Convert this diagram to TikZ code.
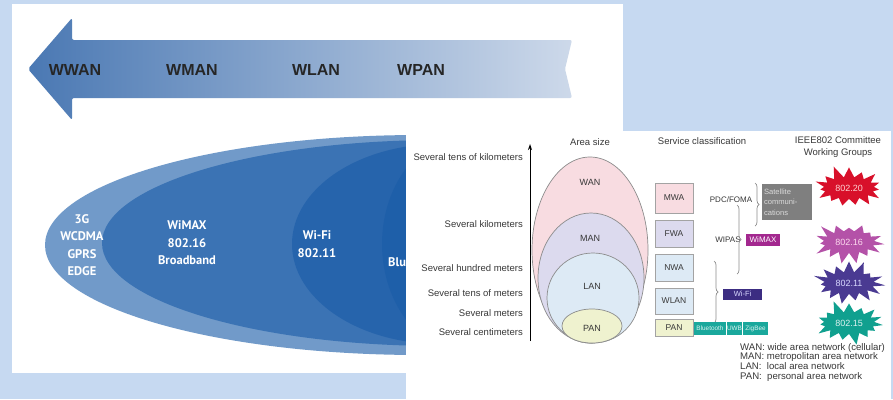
\documentclass[tikz,border=0pt]{standalone}
\usepackage{fontspec}
\setmainfont{Liberation Sans}
\newfontfamily\ellfont{PT Sans}
\usetikzlibrary{shapes.symbols,arrows.meta,decorations.pathreplacing}
\definecolor{bgblue}{HTML}{C6D9F1}
\definecolor{arrowdark}{HTML}{4A78B3}
\definecolor{arrowlight}{HTML}{CDD9EA}
\definecolor{ellblue}{HTML}{1A5CA8}
\definecolor{txtgray}{HTML}{383838}
\definecolor{linegray}{HTML}{8C8C8C}
\definecolor{wanpink}{HTML}{F8DCE1}
\definecolor{manlav}{HTML}{DCDAEE}
\definecolor{lanblue}{HTML}{DDEAF5}
\definecolor{panyel}{HTML}{EFF2CF}
\definecolor{satgray}{HTML}{7F7F7F}
\definecolor{wimaxmag}{HTML}{A3288F}
\definecolor{wifipur}{HTML}{3C2D82}
\definecolor{teal}{HTML}{1AA89C}
\definecolor{burstred}{HTML}{D8102A}
\definecolor{burstpink}{HTML}{B452A8}
\definecolor{burstpur}{HTML}{4A3A92}
\definecolor{burstteal}{HTML}{10A08F}
\tikzset{
  toplbl/.style={font=\fontsize{16}{18}\selectfont\bfseries, text=black!85, inner sep=0pt},
  elltxt/.style={font=\ellfont\bfseries\fontsize{12.5}{17.5}\selectfont, text=white, align=center, inner sep=0pt},
  rtxt/.style={font=\fontsize{9.5}{11}\selectfont, text=txtgray, inner sep=0pt},
  axlbl/.style={rtxt, anchor=east},
  ringlbl/.style={font=\fontsize{9}{10}\selectfont, text=txtgray, inner sep=0pt},
  clsbox/.style={draw=linegray!80, line width=0.7pt, minimum width=38pt, font=\fontsize{8.5}{10}\selectfont, text=txtgray, inner sep=0pt},
  coloredbox/.style={inner sep=0pt, font=\fontsize{7.5}{9}\selectfont},
  tealbox/.style={coloredbox, fill=teal, text=white!85!teal, minimum height=13pt, font=\fontsize{6.4}{8}\selectfont},
  burst/.style={starburst, draw=none, starburst points=15, starburst point height=13pt, inner xsep=4pt, inner ysep=4.5pt, font=\fontsize{9}{10}\selectfont},
  brc/.style={decorate, decoration={brace, amplitude=4pt}, draw=linegray, line width=0.7pt},
  ringline/.style={draw=linegray, line width=0.7pt}
}
\begin{document}
\begin{tikzpicture}[x=1pt,y=-1pt]
\useasboundingbox (0,0) rectangle (893,399);
\fill[bgblue] (0,0) rectangle (893,399);
% left panel
\fill[white] (12,4) rectangle (623,373);
\shade[left color=arrowdark, right color=arrowlight, rounded corners=2pt]
  (28,69) -- (72,18) -- (72,40) -- (572,40) -- (565,69) -- (572,98) -- (72,98) -- (72,120) -- cycle;
\node[toplbl] (wwan) at (75,70) {WWAN};
\node[toplbl] (wman) at (192,70) {WMAN};
\node[toplbl] (wlan) at (316,70) {WLAN};
\node[toplbl] (wpan) at (421,70) {WPAN};
% overlapping ellipses
\fill[ellblue, fill opacity=0.62] (420,245) circle [x radius=375, y radius=110];
\fill[ellblue, fill opacity=0.62] (440,243) circle [x radius=338, y radius=103];
\fill[ellblue, fill opacity=0.62] (440,244) circle [x radius=148, y radius=100];
\fill[ellblue, fill opacity=0.62] (470,244) circle [x radius=88, y radius=110];
\node[elltxt] (g3) at (82,245) {3G\\WCDMA\\GPRS\\EDGE};
\node[elltxt] (wimaxl) at (187,243) {WiMAX\\802.16\\Broadband};
\node[elltxt] (wifil) at (317,244) {Wi-Fi\\802.11};
\node[elltxt, anchor=west] (blu) at (388,262) {Blu};
% right panel
\fill[white] (406,131) rectangle (891,399);
\node[rtxt] (area) at (590,142) {Area size};
\node[rtxt] (serv) at (702,141) {Service classification};
\node[rtxt, align=center, font=\fontsize{9.5}{12}\selectfont] (ieee) at (838,147) {IEEE802 Committee\\Working Groups};
\coordinate (axb) at (530,341);
\coordinate (axt) at (530,144);
\draw[line width=1pt, -{Stealth[length=6pt,width=4pt]}] (axb) -- (axt);
\node[axlbl] (l1) at (523,157) {Several tens of kilometers};
\node[axlbl] (l2) at (523,224) {Several kilometers};
\node[axlbl] (l3) at (523,268) {Several hundred meters};
\node[axlbl] (l4) at (523,293) {Several tens of meters};
\node[axlbl] (l5) at (523,313) {Several meters};
\node[axlbl] (l6) at (523,332) {Several centimeters};
% nested rings
\filldraw[ringline, fill=wanpink] (590,250) circle [x radius=58, y radius=93];
\filldraw[ringline, fill=manlav] (591,278) circle [x radius=53, y radius=65];
\filldraw[ringline, fill=lanblue] (593,298) circle [x radius=46, y radius=45];
\filldraw[ringline, fill=panyel] (592,326) circle [x radius=30, y radius=17];
\node[ringlbl] (wan) at (590,182) {WAN};
\node[ringlbl] (man) at (590,238) {MAN};
\node[ringlbl] (lan) at (592,286) {LAN};
\node[ringlbl] (pan) at (592,328) {PAN};
% classification boxes
\node[clsbox, fill=wanpink, minimum height=30pt] (mwa) at (674,198) {MWA};
\node[clsbox, fill=manlav, minimum height=27pt] (fwa) at (674,234) {FWA};
\node[clsbox, fill=lanblue, minimum height=27pt] (nwa) at (674,268) {NWA};
\node[clsbox, fill=lanblue, minimum height=26pt] (wlanb) at (674,301) {WLAN};
\node[clsbox, fill=panyel, minimum height=17pt] (panb) at (674,327.5) {PAN};
\node[rtxt, font=\fontsize{8}{10}\selectfont] (pdc) at (731,200) {PDC/FOMA};
\node[rtxt, font=\fontsize{8}{10}\selectfont] (wipas) at (728,240) {WIPAS};
\coordinate (b1t) at (755,183);
\coordinate (b1b) at (755,226);
\coordinate (b2t) at (737,205);
\coordinate (b2b) at (737,274);
\coordinate (b3t) at (714,261);
\coordinate (b3b) at (714,323);
\draw[brc] (b1t) -- (b1b);
\draw[brc] (b2t) -- (b2b);
\draw[brc] (b3t) -- (b3b);
\node[coloredbox, fill=satgray, text=white!85!black, minimum width=50pt, minimum height=36pt, align=left, text width=46pt, font=\fontsize{7.6}{10.5}\selectfont] (sat) at (787,202) {Satellite\\communi-\\cations};
\node[coloredbox, fill=wimaxmag, text=white, minimum width=34pt, minimum height=12pt, font=\fontsize{8}{9}\selectfont] (wimaxb) at (763,240) {WiMAX};
\node[coloredbox, fill=wifipur, text=white!85!blue, minimum width=39pt, minimum height=11pt] (wifib) at (742.5,294) {Wi-Fi};
\node[tealbox, minimum width=32pt] (bt) at (710,328.5) {Bluetooth};
\node[tealbox, minimum width=15pt] (uwb) at (734.5,328.5) {UWB};
\node[tealbox, minimum width=25pt] (zig) at (755.5,328.5) {ZigBee};
% starbursts
\node[burst, fill=burstred, text=pink!70!white, random starburst=11] (s20) at (849,188) {802.20};
\node[burst, fill=burstpink, text=white!85!magenta, random starburst=23] (s16) at (849,242) {802.16};
\node[burst, fill=burstpur, text=white!85!blue, random starburst=37] (s11) at (849,283) {802.11};
\node[burst, fill=burstteal, text=white!85!teal, random starburst=64] (s15) at (849,323) {802.15};
% legend
\node[rtxt, anchor=north west, align=left, font=\fontsize{9.6}{9.7}\selectfont] (legend) at (740,343)
  {WAN: wide area network (cellular)\\MAN: metropolitan area network\\LAN:\ \ local area network\\PAN:\ \ personal area network};
\end{tikzpicture}
\end{document}
